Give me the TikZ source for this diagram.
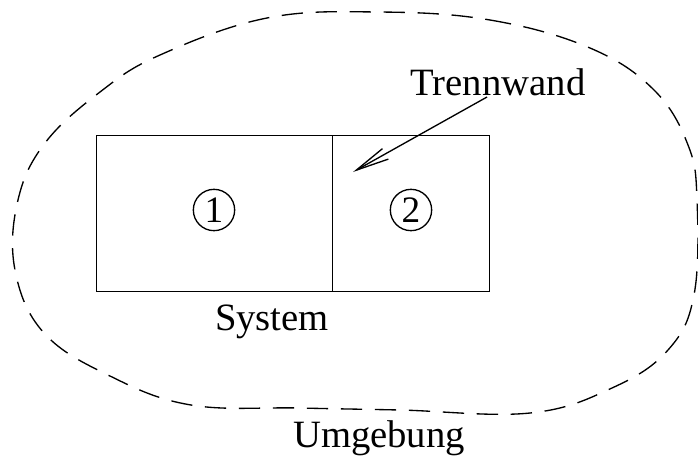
\documentclass[tikz,border=0pt]{standalone}
\usepackage{fontspec}
\setmainfont{Liberation Serif}
\usetikzlibrary{arrows.meta}
\begin{document}
\begin{tikzpicture}[x=0.75pt,y=-0.75pt,
  lbl/.style={font=\fontsize{29}{34}\selectfont, inner sep=0pt, anchor=base},
  wall/.style={draw, line width=1pt, inner sep=0pt, minimum height=117pt, anchor=north west},
  region/.style={draw, circle, line width=1pt, minimum size=31pt, inner sep=0pt,
    font=\fontsize{28}{32}\selectfont},
  bound/.style={line width=1pt, dash pattern=on 16pt off 9.5pt},
  pointer/.style={line width=1pt, -{Straight Barb[length=25pt,width=9pt,line width=1pt]}}]
  \useasboundingbox (0,0) rectangle (698,457);

  % surroundings boundary
  \draw[bound] plot[smooth cycle, tension=0.65] coordinates {
    (378,12) (490,20) (590,48) (654,90) (688,145) (697,200) (694,295)
    (668,350) (612,388) (530,413) (400,410) (300,408) (191,405)
    (110,376) (44,333) (15,270) (18,200) (45,143) (100,92) (160,55) (267,18)};

  % the system: two chambers separated by a wall
  \node[wall, minimum width=177pt] (left) at (96,135) {};
  \node[wall, minimum width=117.75pt] (right) at (332,135) {};

  \node[region] (c1) at (214,210) {\raisebox{-0.5pt}{1}};
  \node[region] (c2) at (411,210) {\raisebox{-0.5pt}{2}};

  \node[lbl] (tw) at (498,95) {Trennwand};
  \node[lbl] (sys) at (272,330) {System};
  \node[lbl] (env) at (379,447) {Umgebung};

  \coordinate (a0) at (487,97);
  \coordinate (a1) at (353,172);
  \draw[pointer] (a0) -- (a1);
\end{tikzpicture}
\end{document}
